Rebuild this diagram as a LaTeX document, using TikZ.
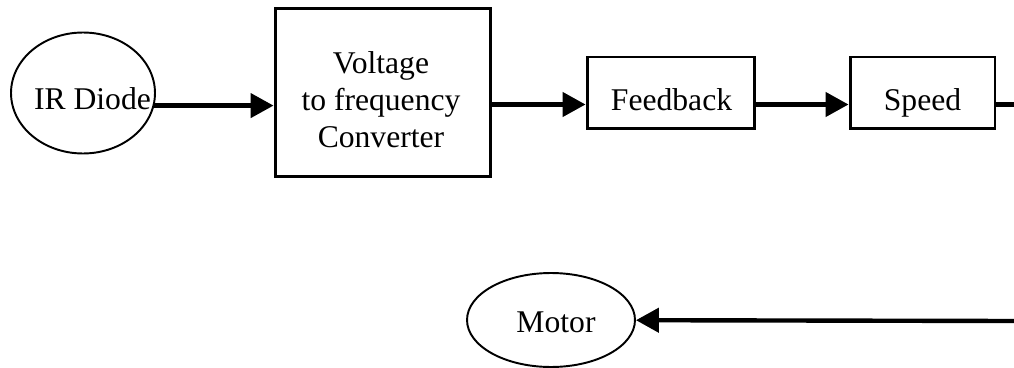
\documentclass[tikz,border=0pt]{standalone}
\usepackage{fontspec}
\setmainfont{Liberation Serif}
\usepackage{tikz}
\usetikzlibrary{shapes.geometric,arrows.meta}

\begin{document}
\begin{tikzpicture}[x=0.02cm,y=-0.02cm,
	every node/.style={font=\fontsize{18pt}{21pt}\selectfont},
	block/.style={draw,line width=1.7pt,inner sep=0pt},
	oval/.style={draw,ellipse,line width=1.1pt,inner sep=0pt},
	flow/.style={line width=2.5pt,-{Triangle[length=13pt,width=13.6pt]}}]
	\useasboundingbox (0,0) rectangle (1014,368);

	\node [oval,minimum width=2.88cm,minimum height=2.42cm](IR) at (83,93) {};
	\node [block,minimum width=4.32cm,minimum height=3.38cm](VF) at (383,92.5) {};
	\node [block,minimum width=3.36cm,minimum height=1.44cm](FB) at (671,93) {};
	\node [block,minimum width=2.9cm,minimum height=1.44cm](SP) at (922.5,93) {};
	\node [oval,minimum width=3.36cm,minimum height=1.88cm](MO) at (551,320) {};

	\node [anchor=base](IRtxt) at (92.5,110) {IR Diode};
	\node [align=center](VFtxt) at (381,100) {Voltage\\to frequency\\Converter};
	\node [anchor=base](FBtxt) at (671.5,111) {Feedback};
	\node [anchor=base](SPtxt) at (922.5,111) {Speed};
	\node [anchor=base](MOtxt) at (556,332) {Motor};

	\coordinate (LVL) at (0,104.5);
	\coordinate (TOPEDGE) at (1014,104.5);
	\coordinate (BOTEDGE) at (1014,321);

	\draw [flow] (IR.-10) to (IR.-10 -| VF.west);
	\draw [flow] (VF.east |- LVL) to (FB.west |- LVL);
	\draw [flow] (FB.east |- LVL) to (SP.west |- LVL);
	\draw [line width=2.5pt] (SP.east |- LVL) to (TOPEDGE);
	\draw [flow] (BOTEDGE) to (MO);
\end{tikzpicture}
\end{document}
